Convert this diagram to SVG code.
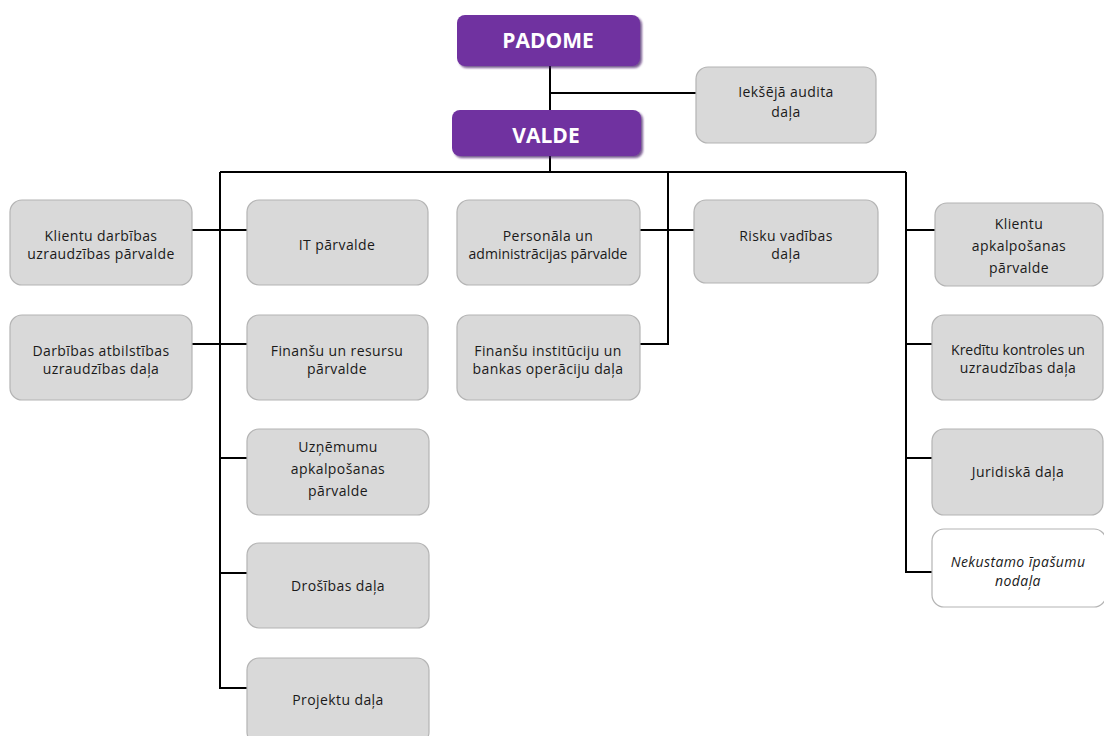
<svg xmlns="http://www.w3.org/2000/svg" width="1104" height="736" viewBox="0 0 1104 736">
<defs>
<filter id="sh" x="-10%" y="-20%" width="120%" height="150%">
<feDropShadow dx="2" dy="2" stdDeviation="1.2" flood-color="#3d1060" flood-opacity="0.7"/>
</filter>
</defs>
<style>
.box{fill:#D9D9D9;stroke:#B4B4B4;stroke-width:1.2}
.wbox{fill:#FFFFFF;stroke:#B4B4B4;stroke-width:1.2}
.top{fill:#7030A0;filter:url(#sh)}
.t{font-family:"Open Sans","Noto Sans","DejaVu Sans",sans-serif;font-size:14px;letter-spacing:0.4px;fill:#1a1a1a;text-anchor:middle}
.ti{font-style:italic}
.tb{font-family:"Open Sans","Noto Sans","DejaVu Sans",sans-serif;font-size:21px;font-weight:bold;fill:#FFFFFF;text-anchor:middle}
.c{stroke:#000;stroke-width:2;fill:none}
</style>
<rect width="1104" height="736" fill="#FFFFFF"/>
<g id="connectors">
<path class="c" d="M550 66V172"/>
<path class="c" d="M550 93H696"/>
<path class="c" d="M220 172H906"/>
<path class="c" d="M220 172V688H247"/>
<path class="c" d="M192 230H247"/>
<path class="c" d="M192 344H247"/>
<path class="c" d="M220 458H247"/>
<path class="c" d="M220 573H247"/>
<path class="c" d="M668 172V344H640"/>
<path class="c" d="M640 230H694"/>
<path class="c" d="M906 172V572H932"/>
<path class="c" d="M906 230H935"/>
<path class="c" d="M906 344H932"/>
<path class="c" d="M906 458H932"/>
</g>
<g id="padome">
<rect class="top" x="457" y="15" width="183" height="51" rx="8"/>
<text class="tb" x="548" y="48">PADOME</text>
</g>
<g id="valde">
<rect class="top" x="452" y="110" width="189" height="46" rx="8"/>
<text class="tb" x="546" y="143">VALDE</text>
</g>
<g id="audit">
<rect class="box" x="696" y="67" width="180" height="76" rx="12"/>
<text class="t" x="786" y="97">Iekšējā audita</text>
<text class="t" x="786" y="117">daļa</text>
</g>
<g id="klientu-darbibas">
<rect class="box" x="10" y="200" width="182" height="85" rx="12"/>
<text class="t" x="101" y="241">Klientu darbības</text>
<text class="t" x="101" y="259">uzraudzības pārvalde</text>
</g>
<g id="it">
<rect class="box" x="247" y="200" width="181" height="85" rx="12"/>
<text class="t" x="337" y="250">IT pārvalde</text>
</g>
<g id="darbibas-atbilstibas">
<rect class="box" x="10" y="315" width="182" height="85" rx="12"/>
<text class="t" x="101" y="356">Darbības atbilstības</text>
<text class="t" x="101" y="374">uzraudzības daļa</text>
</g>
<g id="finansu-resursu">
<rect class="box" x="247" y="315" width="181" height="85" rx="12"/>
<text class="t" x="337" y="356">Finanšu un resursu</text>
<text class="t" x="337" y="374">pārvalde</text>
</g>
<g id="uznemumu">
<rect class="box" x="247" y="429" width="182" height="86" rx="12"/>
<text class="t" x="338" y="452">Uzņēmumu</text>
<text class="t" x="338" y="474">apkalpošanas</text>
<text class="t" x="338" y="496">pārvalde</text>
</g>
<g id="drosibas">
<rect class="box" x="247" y="543" width="182" height="85" rx="12"/>
<text class="t" x="338" y="591">Drošības daļa</text>
</g>
<g id="projektu">
<rect class="box" x="247" y="658" width="182" height="86" rx="12"/>
<text class="t" x="338" y="705">Projektu daļa</text>
</g>
<g id="personala">
<rect class="box" x="457" y="200" width="183" height="85" rx="12"/>
<text class="t" x="548" y="241">Personāla un</text>
<text class="t" x="548" y="259" style="letter-spacing:0">administrācijas pārvalde</text>
</g>
<g id="risku">
<rect class="box" x="694" y="200" width="184" height="83" rx="12"/>
<text class="t" x="786" y="241">Risku vadības</text>
<text class="t" x="786" y="259">daļa</text>
</g>
<g id="finansu-instituciju">
<rect class="box" x="457" y="315" width="183" height="85" rx="12"/>
<text class="t" x="548" y="356">Finanšu institūciju un</text>
<text class="t" x="548" y="374">bankas operāciju daļa</text>
</g>
<g id="klientu-apkalposanas">
<rect class="box" x="935" y="203" width="168" height="83" rx="12"/>
<text class="t" x="1019" y="229">Klientu</text>
<text class="t" x="1019" y="251">apkalpošanas</text>
<text class="t" x="1019" y="273">pārvalde</text>
</g>
<g id="kreditu">
<rect class="box" x="932" y="315" width="171" height="85" rx="12"/>
<text class="t" x="1018" y="355" style="letter-spacing:0">Kredītu kontroles un</text>
<text class="t" x="1018" y="373">uzraudzības daļa</text>
</g>
<g id="juridiska">
<rect class="box" x="932" y="429" width="171" height="86" rx="12"/>
<text class="t" x="1018" y="477">Juridiskā daļa</text>
</g>
<g id="nekustamo">
<rect class="wbox" x="932" y="529" width="174" height="78" rx="12"/>
<text class="t ti" x="1018" y="567">Nekustamo īpašumu</text>
<text class="t ti" x="1018" y="586">nodaļa</text>
</g>
</svg>
